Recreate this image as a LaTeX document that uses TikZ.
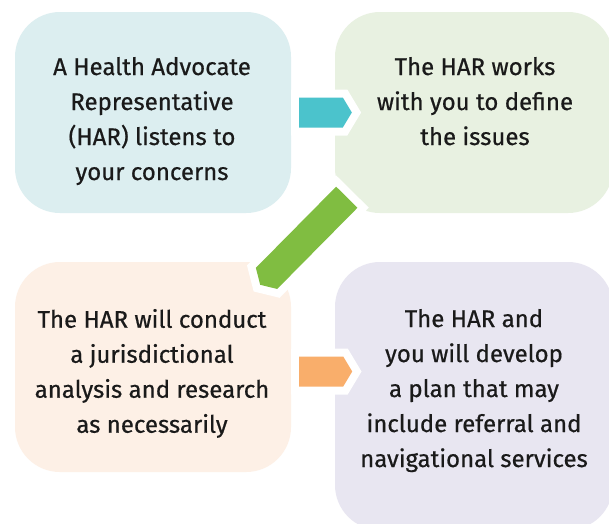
\documentclass[tikz,border=0pt]{standalone}
\usepackage{fontspec}
\setmainfont{Fira Sans}[FakeBold=0.6]
\usetikzlibrary{calc}
\definecolor{boxA}{HTML}{DCEEF0}
\definecolor{boxB}{HTML}{E8F1E1}
\definecolor{boxC}{HTML}{FDF0E6}
\definecolor{boxD}{HTML}{E8E6F1}
\definecolor{arrT}{HTML}{4BC3CC}
\definecolor{arrG}{HTML}{80BD41}
\definecolor{arrO}{HTML}{F9AE6B}
\definecolor{ink}{HTML}{1A1A1A}
\tikzset{
  box/.style={draw=none, rounded corners=45pt, inner sep=0pt},
  txt/.style={anchor=north, align=center, inner sep=0pt, text=ink,
    font=\fontsize{24}{35}\selectfont},
  flow/.style={preaction={draw=white, line width=16pt, line join=miter}},
}
% #1 tail centre, #2 tip, #3 colour
\newcommand{\HarArrow}[3]{%
  \coordinate (#1-hb) at ($(#2)!9pt!(#1)$);
  \fill[flow, #3]
    ($(#1)!15pt!90:(#2)$) -- ($(#1-hb)!15pt!-90:(#1)$) -- (#2)
    -- ($(#1-hb)!15pt!90:(#1)$) -- ($(#1)!15pt!-90:(#2)$) -- cycle;
}
\begin{document}
\begin{tikzpicture}[x=1pt, y=-1pt]
  \useasboundingbox (0,0) rectangle (609,523);
  \fill[white] (0,0) rectangle (609,523);
  \clip (0,0) rectangle (609,523);
  % boxes
  \node[box, fill=boxA, minimum width=276pt, minimum height=201pt] (b1) at (153,112.5) {};
  \node[box, fill=boxB, minimum width=278pt, minimum height=201pt] (b2) at (474,112.5) {};
  \node[box, fill=boxC, minimum width=276pt, minimum height=210pt] (b3) at (153,367) {};
  \node[box, fill=boxD, minimum width=278pt, minimum height=268pt] (b4) at (474,396) {};
  % connectors
  \coordinate (tA) at ($(b1.east)+(8,0)$);
  \coordinate (hA) at ($(b2.west)+(17,0)$);
  \HarArrow{tA}{hA}{arrT}
  \coordinate (tG) at ($(b2.south west)+(12,-16)$);
  \coordinate (hG) at ($(b3.north east)+(-31,23)$);
  \HarArrow{tG}{hG}{arrG}
  \coordinate (tO) at ($(b3.east)+(8,4.5)$);
  \coordinate (hO) at ($(tO)+(53,0)$);
  \HarArrow{tO}{hO}{arrO}
  % texts
  \node[txt] (x1) at ($(b1.north)+(-1,45)$) {A Health Advocate\\Representative\\(HAR) listens to\\your concerns};
  \node[txt] (x2) at ($(b2.north)+(1,45)$) {The HAR works\\with you to define\\the issues};
  \node[txt] (x3) at ($(b3.north)+(-1,47)$) {The HAR will conduct\\a jurisdictional\\analysis and research\\as necessarily};
  \node[txt] (x4) at ($(b4.north)+(0,47)$) {The HAR and\\you will develop\\a plan that may\\include referral and\\navigational services};
\end{tikzpicture}
\end{document}
